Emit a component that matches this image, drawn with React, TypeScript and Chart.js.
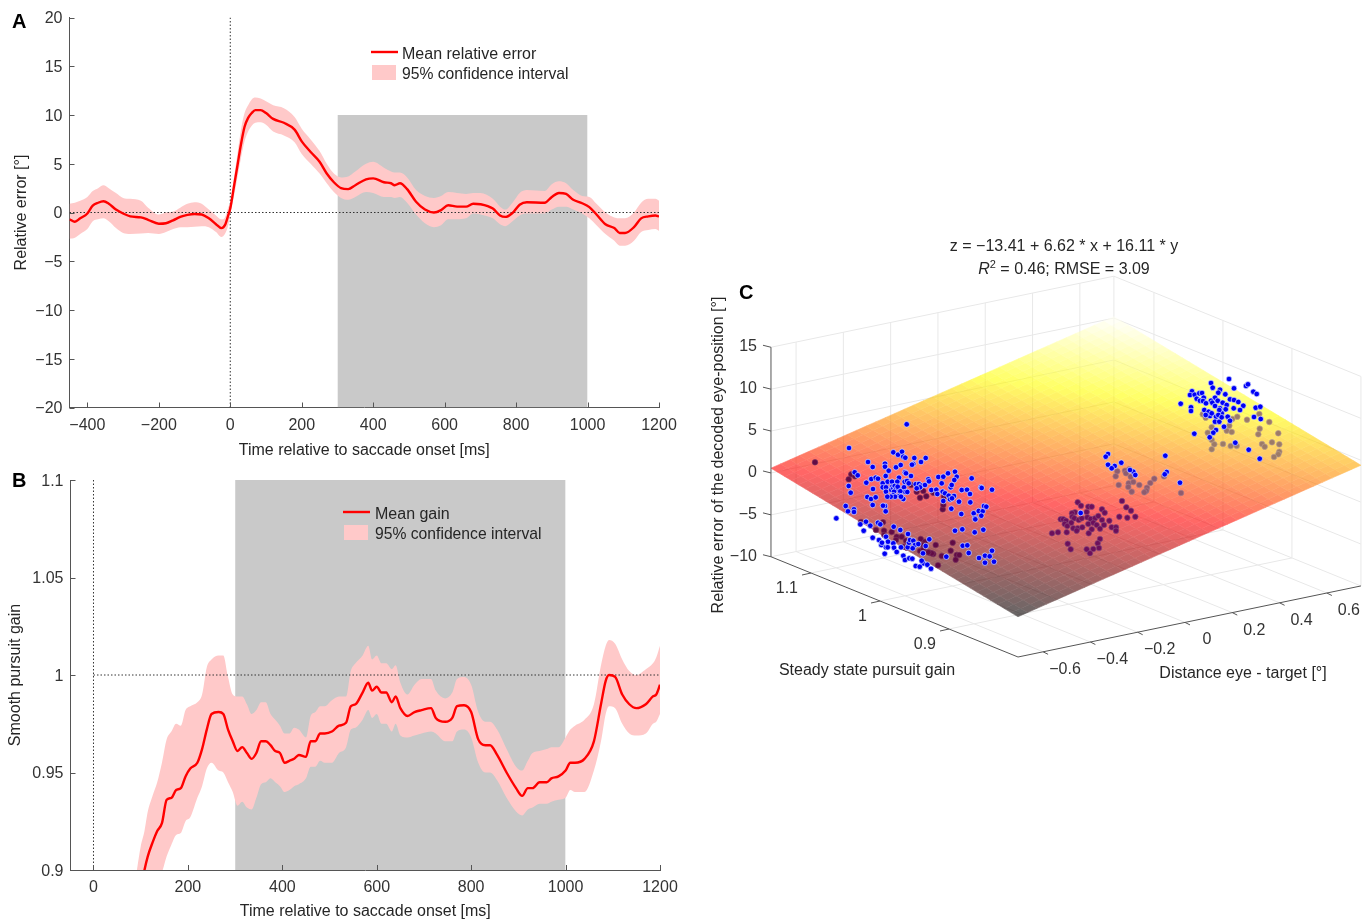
import React, { useEffect, useRef } from "react";
import { Chart, registerables } from "chart.js";

Chart.register(...registerables);
Chart.defaults.font.family = '"Liberation Sans", Arial, sans-serif';
Chart.defaults.color = "#333";

const FONT = '"Liberation Sans", Arial, sans-serif';

// ---------- Panel A ----------
const errorTicksX = [-400, -200, 0, 200, 400, 600, 800, 1000, 1200];
const errorTicksY = [-20, -15, -10, -5, 0, 5, 10, 15, 20];
const errorTime = [-450,-435,-420,-400,-385,-370,-355,-340,-320,-300,-280,-250,-230,-200,-180,-160,-140,-120,-100,-80,-60,-40,-25,-15,-5,0,10,20,30,40,50,60,70,85,100,120,150,180,200,225,250,270,290,310,330,350,380,400,430,450,460,475,495,520,545,570,590,610,635,660,680,700,735,755,770,790,810,830,880,900,920,940,960,985,1005,1025,1050,1075,1090,1105,1130,1150,1170,1190,1200];
const errorMean = [-0.7,-0.95,-0.6,-0.1,0.7,1.0,1.15,0.9,0.3,-0.1,-0.4,-0.5,-0.75,-1.15,-1.1,-0.8,-0.45,-0.25,-0.15,-0.2,-0.6,-1.2,-1.6,-1.3,-0.2,0.4,2.6,4.8,7.0,8.8,9.7,10.2,10.5,10.5,10.2,9.6,9.2,8.5,7.3,6.2,5.2,4.0,3.1,2.5,2.4,2.8,3.4,3.5,3.1,3.0,2.8,3.0,2.4,1.1,0.3,0.0,0.25,0.75,0.6,0.6,0.9,0.85,0.4,-0.3,-0.45,-0.05,0.8,1.05,1.0,1.6,2.0,1.9,1.3,0.95,0.55,-0.2,-1.2,-1.6,-2.1,-2.1,-1.5,-0.6,-0.4,-0.3,-0.4];
const errorUpper = [0.9,1.0,1.2,1.6,2.2,2.5,2.8,2.5,2.0,1.5,1.4,1.2,0.5,-0.2,0.0,0.1,0.5,0.9,1.05,0.9,0.3,-0.3,-0.7,-0.5,0.6,1.0,3.5,6.0,8.5,10.2,11.0,11.6,11.8,11.7,11.4,11.0,10.7,9.8,8.6,7.5,6.3,5.0,4.0,3.6,3.7,4.2,5.0,5.2,4.6,4.2,4.1,4.1,3.6,2.3,1.7,1.5,1.7,2.1,2.0,1.9,2.0,2.0,1.4,0.6,0.3,1.0,2.0,2.3,2.2,2.9,3.2,3.0,2.3,1.7,1.6,0.9,0.0,-0.5,-0.6,-0.6,0.0,1.0,1.4,1.4,1.2];
const errorLower = [-2.7,-2.6,-2.2,-1.7,-0.9,-0.7,-0.6,-0.9,-1.6,-2.1,-2.2,-2.15,-2.1,-2.2,-2.0,-1.7,-1.5,-1.5,-1.45,-1.4,-1.5,-2.0,-2.5,-2.2,-1.2,-0.1,1.6,3.6,5.6,7.3,8.3,8.9,9.2,9.25,9.0,8.3,7.9,7.2,6.0,5.0,4.0,3.0,2.1,1.5,1.3,1.6,2.1,2.0,1.6,1.6,1.5,1.6,1.0,-0.2,-1.1,-1.5,-1.3,-0.7,-0.7,-0.6,-0.1,-0.2,-0.6,-1.2,-1.4,-0.9,-0.3,-0.1,-0.1,0.3,0.6,0.6,0.3,-0.1,-0.6,-1.3,-2.2,-2.9,-3.4,-3.4,-2.9,-2.0,-1.8,-1.7,-1.9];
const errorWindow = [300, 1000];
const errorWindowTop = 10;

// ---------- Panel B ----------
const gainTicksX = [0, 200, 400, 600, 800, 1000, 1200];
const gainTicksY = [0.9, 0.95, 1, 1.05, 1.1];
const gainTime = [92,100,108,115,125,135,145,155,165,175,185,195,205,220,230,240,250,265,275,285,295,305,315,325,335,345,355,365,375,385,395,405,415,425,435,450,460,470,480,490,505,520,535,545,555,570,582,590,600,610,620,632,640,650,665,680,695,715,725,745,760,770,785,800,815,830,840,855,875,895,908,920,930,945,960,970,985,1000,1010,1020,1040,1060,1075,1085,1092,1105,1120,1135,1150,1170,1185,1192,1200];
const gainMean = [0.88,0.89,0.9,0.907,0.914,0.92,0.924,0.936,0.937,0.941,0.942,0.948,0.952,0.955,0.962,0.972,0.98,0.981,0.98,0.972,0.966,0.961,0.963,0.96,0.957,0.96,0.966,0.966,0.964,0.961,0.96,0.955,0.956,0.957,0.959,0.958,0.966,0.966,0.97,0.97,0.971,0.974,0.9755,0.984,0.985,0.991,0.996,0.992,0.994,0.991,0.991,0.986,0.989,0.983,0.979,0.981,0.982,0.983,0.978,0.976,0.978,0.984,0.9845,0.981,0.967,0.964,0.964,0.959,0.95,0.942,0.938,0.942,0.942,0.945,0.945,0.947,0.948,0.951,0.955,0.955,0.957,0.966,0.985,0.997,1.0,0.999,0.99,0.985,0.983,0.985,0.989,0.99,0.995];
const gainUpper = [0.9,0.912,0.92,0.93,0.938,0.945,0.955,0.967,0.971,0.975,0.974,0.982,0.984,0.986,0.99,1.004,1.008,1.01,1.01,0.999,0.99,0.989,0.989,0.985,0.98,0.982,0.986,0.986,0.98,0.977,0.974,0.97,0.97,0.973,0.972,0.968,0.979,0.981,0.984,0.984,0.987,0.989,0.989,1.002,1.006,1.01,1.015,1.008,1.01,1.006,1.006,1.003,1.005,0.996,0.99,0.995,0.998,0.998,0.992,0.988,0.991,0.998,0.999,0.995,0.981,0.976,0.976,0.972,0.962,0.953,0.951,0.956,0.96,0.961,0.962,0.963,0.963,0.968,0.972,0.974,0.977,0.985,1.005,1.015,1.018,1.016,1.008,1.002,1.0,1.003,1.006,1.009,1.015];
const gainLower = [0.87,0.878,0.885,0.89,0.893,0.896,0.899,0.907,0.913,0.918,0.919,0.925,0.927,0.937,0.943,0.952,0.955,0.951,0.95,0.945,0.94,0.933,0.935,0.932,0.931,0.937,0.944,0.945,0.947,0.945,0.943,0.94,0.941,0.943,0.944,0.947,0.953,0.953,0.956,0.955,0.955,0.96,0.963,0.972,0.973,0.977,0.982,0.978,0.98,0.975,0.975,0.971,0.975,0.969,0.968,0.969,0.97,0.971,0.97,0.966,0.966,0.971,0.972,0.968,0.955,0.95,0.95,0.946,0.937,0.93,0.928,0.931,0.932,0.934,0.934,0.935,0.936,0.937,0.941,0.94,0.94,0.951,0.966,0.98,0.984,0.983,0.975,0.97,0.969,0.97,0.975,0.976,0.98];
const gainWindow = [300, 1000];

// ---------- Panel C: 3D axes and fitted plane ----------
const distanceTicks = [-0.6, -0.4, -0.2, 0, 0.2, 0.4, 0.6];
const pursuitTicks = [1.1, 1, 0.9];
const decodedTicks = [-10, -5, 0, 5, 10, 15];
const distanceRange = [-0.706, 0.744];
const pursuitRange = [0.8, 1.158];
const decodedRange = [-10, 15];
const planeCoef = [-13.41, 6.62, 16.11];

// Panel C samples, read in the flat projected view of the 3D plot
const blueViewX = [906.7,849,868,872.7,885,885,888.7,896,900.7,893.3,898,902,903.3,905.3,914.3,925.7,921,913.3,912,899,905,906,911,885.7,854.7,857.7,848.7,850.7,866.3,871.3,875.7,878,873,867.3,871,875.7,872.7,885,883,845.7,848,854,854,885.7,882.7,882.7,886,887.7,892,897.3,892.3,886,891.3,893.3,894.7,896,894,897.7,904.7,907,908.7,904,905.3,907.3,900.3,899.3,893.3,895,890.7,887.3,903.3,901,915.7,919,921.3,920,925,928.3,929,916.7,931.3,936.3,938.3,943.3,948,955,956.7,954.3,950.7,951.7,941.7,942.7,937.3,945,948.7,950,954,952,971.7,961.7,967,970,981,981.7,992,959,970.3,943.3,951.3,961.3,973.7,978.7,982.7,984,986.3,981.3,975,975.3,836.3,866,870.3,878,880.3,860.3,863.7,893.7,900.3,908,872.7,879,886,888,881.3,882,886,887.7,893.3,894,884.7,896.7,903.3,905,901,907.7,909,910,913.3,915,918.3,925.7,929.3,909.3,912.3,923.3,915.7,919.7,927.3,931,921.7,923,912.7,955,962.3,974.7,983.3,962.7,967.3,968.7,946.3,979,985,989.7,992,985,994,1229,1211,1212.7,1220,1218.3,1234,1246,1248,1253.3,1256.7,1192,1190,1194.7,1199.3,1202,1203.7,1196.7,1200,1203,1206,1215,1211,1212.3,1217.7,1225.3,1222.7,1226.7,1230,1234,1238.3,1243.3,1240,1233.7,1180.7,1191,1191,1204.3,1208.7,1215,1220,1225.7,1210,1216,1221.7,1219.3,1227.7,1230,1215,1219.3,1224,1216,1213.3,1209.7,1194.3,1255.7,1260.3,1254,1260.7,1235.3,1248.7,1259.7,1205.7,1211.7,1218.3,1221.7,1108,1105.7,1108,1114.7,1111.7,1121.3,1133.3,1135.3,1130,1165.3,1166.7,1164.7,1180,1080.7];
const blueViewY = [424.3,448,462,467,463.7,466.7,470.7,467.3,465,452.3,454.7,451.7,456.7,457.7,458,458,462,464,464.7,477.7,472.3,473.3,476,476,472.3,475.3,486,492.7,482.7,479,477.7,478.7,489,497,499,497.3,505,506,505.7,506,511.3,509.3,512,511.3,483.3,487.3,487.3,481.7,481.7,481.7,486.7,491.7,490,488.3,486,489.3,491.7,486.7,481.7,481,483.3,487.3,492,492,491.3,496,495.3,496.7,496.7,496.7,499,496.7,484.3,484,485.7,487.3,485,479.3,481.3,488.3,490,489.7,477,476.7,473.3,471.7,476.7,480,487.3,485,483.3,491.7,494,493.3,495.7,499.3,496,498.3,478.3,490,489.7,494,487.3,488,489.7,501.7,502.3,501,508.7,514,513.3,511,511.3,506,506.7,515.7,518.3,519.3,518.3,521.7,525.7,522.7,524.3,524.3,530.7,526.7,530,534,537.7,540,536.7,541.7,545,542.7,547.3,547.3,543.3,547.7,553.7,552,555.7,560,547.3,547.3,542.7,540,540.7,545,544,546,539.3,558.3,558.7,563.3,566,566.7,564.7,568.7,560.7,553.3,548.3,530.7,529.3,532.3,529.7,545.7,545.3,553,556.7,558,555.7,556.3,550.7,562.7,561.7,379,383,387.7,389.7,392.7,388.3,386,384.3,391.7,394,391.3,395,394.7,393.3,393,397.7,398.7,400.7,401,403.3,397.7,400.7,402.7,400.7,394.3,402.7,405,399.3,400,402,405.7,410,408.3,403.7,407.3,411,410,411.7,406,408.3,409.3,416,416.7,413.3,410,416.7,420.7,421.7,421.7,426.7,430,432.7,437.3,433.7,407.7,406.7,417,419,442.7,449.7,458.7,415,413.3,415,417.3,454,456.7,464.7,466,468.3,462.7,471.7,475,470,455.7,472,474.3,482.7,513];
const maroonViewX = [815,851.3,848.7,855,861,876,883,884,896.7,901.7,896,906,920.7,925,935.7,933.3,930,931.7,941.7,950.7,952.7,956.7,959.3,955.7,938,920,923.3,916.7,920,926.3,923.3,942.7,943.3,944,911,933.3,884.3,891.7,903.3,906.7,928.3,923.3];
const maroonViewY = [462.3,474.3,479.3,476.3,522,530,522.3,530.7,536.7,536.7,540,540.7,539,541.7,545,554,552.7,553.3,556,550.7,542.7,555,555,559.7,565.3,551,549.3,491.7,497.7,496.3,491,509.3,505,496.7,485,492.7,535,532,546.7,547.7,552.3,545];
const purpleViewX = [1077.7,1081,1088.3,1091.7,1075,1072,1086.7,1102,1104.7,1060.7,1063.3,1066,1072.3,1074.3,1078.7,1081.7,1087.3,1090.7,1095,1098.3,1102,1109.3,1064.7,1067.3,1071.3,1073.3,1077.7,1082.3,1088.3,1093.3,1096.7,1091.7,1100,1104,1111.7,1116,1116,1052,1058,1066.7,1088.7,1076.7,1100,1097.7,1099,1093.3,1086.7,1090,1070.7,1067.7,1122,1126.3,1131,1119.3,1127.3,1135.3];
const purpleViewY = [502.3,505.7,506.7,506.7,512.3,513.3,512,509.3,512.7,519.3,519.3,520.7,516.7,518.3,520,518.3,517.3,519,518.3,516,520,520.7,524,526,522.7,528.3,528.3,527.3,524,522.7,525,529.3,528.7,525,527.3,527.3,530.7,533.3,532.3,532.3,533.3,530.7,539,543.3,548,549,549.3,553.3,549.3,543.7,501,507.3,510.7,516.7,517.7,516.7];
const mauveViewX = [1117.3,1115.7,1125,1129.3,1126,1130.7,1118.7,1128.7,1133.3,1139.3,1128.3,1131.7,1150.3,1154.3,1164,1147,1146.3,1144.3,1181];
const mauveViewY = [471.3,476.3,470.7,469.3,473.3,476.7,485,483.3,482,485,487,491.7,483,478.7,476.3,487.7,490.7,492.3,493];
const tanViewX = [1202.7,1205.7,1232.3,1237.3,1247,1259.3,1269.3,1259.7,1258.3,1278.3,1229.3,1211.7,1226.7,1231.7,1207.7,1211.7,1214.3,1211.7,1223,1230.7,1236.7,1262,1264.7,1272,1279.3,1279.3,1278.3,1274];
const tanViewY = [414.3,417.7,419,416.7,419.7,414,422,428.7,434.3,433.3,425.7,427.3,430.7,432,432.7,440,444.3,449.3,444,446,446,444,446.7,442.3,444.3,451.7,454.3,457];

const zip = (xs: number[], ys: (number | null)[]) => xs.map((x, i) => ({ x, y: ys[i] }));
const minus = (v: number) => String(v).replace("-", "\u2212");

// orthographic projection of the MATLAB view onto the panel's view units
const project = (d: number, g: number, z: number) => ({
  x: 1018 + 236.5 * (d - distanceRange[0]) - 690 * (g - pursuitRange[0]),
  y: 657 - 49 * (d - distanceRange[0]) - 280 * (g - pursuitRange[0]) - 8.38 * (z - decodedRange[0]),
});

function hot(t: number) {
  const c = (v: number) => Math.round(255 * Math.max(0, Math.min(1, v)));
  return `rgb(${c(t / 0.375)},${c((t - 0.375) / 0.375)},${c((t - 0.75) / 0.25)})`;
}

function text(ctx: any, s: string, x: number, y: number, font: string, align = "left", color = "#262626") {
  ctx.font = font;
  ctx.textAlign = align;
  ctx.textBaseline = "middle";
  ctx.fillStyle = color;
  ctx.fillText(s, x, y + 1.5);
}

function timeChart(canvas: HTMLCanvasElement, o: any) {
  const axisColor = "#555";
  const inwardTicks = {
    id: "inwardTicks",
    afterDatasetsDraw(chart: any) {
      const { ctx, chartArea: a, scales } = chart;
      ctx.save();
      ctx.strokeStyle = axisColor;
      ctx.lineWidth = 1;
      ctx.beginPath();
      o.ticksX.forEach((v: number) => {
        const p = Math.round(scales.x.getPixelForValue(v)) + 0.5;
        ctx.moveTo(p, a.bottom);
        ctx.lineTo(p, a.bottom - 5);
      });
      o.ticksY.forEach((v: number) => {
        const p = Math.round(scales.y.getPixelForValue(v)) + 0.5;
        ctx.moveTo(a.left, p);
        ctx.lineTo(a.left + 5, p);
      });
      ctx.stroke();
      o.ticksY.forEach((v: number) => {
        text(ctx, minus(v), a.left - 7, scales.y.getPixelForValue(v), `16px ${FONT}`, "right", "#333");
      });
      ctx.restore();
    },
  };
  const legendAndLetter = {
    id: "legendAndLetter",
    afterDraw(chart: any) {
      const { ctx } = chart;
      ctx.save();
      text(ctx, o.letter, 12, o.letterY, `bold 20px ${FONT}`, "left", "#000");
      const l = o.legend;
      ctx.strokeStyle = "#ff0000";
      ctx.lineWidth = 2.4;
      ctx.beginPath();
      ctx.moveTo(l.x, l.y);
      ctx.lineTo(l.x + 27, l.y);
      ctx.stroke();
      ctx.fillStyle = "#ffc9c9";
      ctx.fillRect(l.x + 1, l.y + 13, 24, 15);
      text(ctx, l.mean, l.tx, l.y + 1, `16px ${FONT}`);
      text(ctx, "95% confidence interval", l.tx, l.y + 21, `15.7px ${FONT}`);
      ctx.restore();
    },
  };
  const line = (data: any, extra: any) => ({
    type: "line",
    data,
    pointRadius: 0,
    tension: 0,
    borderWidth: 0,
    fill: false,
    ...extra,
  });
  const dotted = { borderColor: "#333", borderWidth: 1, borderDash: [1.5, 2] };
  const smooth = { cubicInterpolationMode: "monotone" };
  return new Chart(canvas, {
    type: "line",
    data: {
      datasets: [
        line(zip(o.time, o.mean), { borderColor: "#ff0000", borderWidth: 2.4, borderJoinStyle: "round", ...smooth }),
        line(o.zeroH, dotted),
        line(o.zeroV, dotted),
        line(zip(o.time, o.upper), { fill: "+1", backgroundColor: "#ffc9c9", ...smooth }),
        line(zip(o.time, o.lower), { ...smooth }),
        line(o.window, { fill: { value: o.yMin }, backgroundColor: "#c9c9c9" }),
      ] as any,
    },
    options: {
      responsive: false,
      animation: false,
      devicePixelRatio: 1,
      parsing: true,
      layout: { autoPadding: false, padding: o.padding },
      plugins: { legend: { display: false }, tooltip: { enabled: false } },
      scales: {
        x: {
          type: "linear",
          min: o.xMin,
          max: 1200,
          grid: { display: false, drawTicks: false },
          border: { display: true, color: axisColor },
          afterBuildTicks: (s: any) => { s.ticks = o.ticksX.map((value: number) => ({ value })); },
          afterFit: (s: any) => { s.height = o.xHeight; s.paddingLeft = 0; s.paddingRight = 0; },
          ticks: { autoSkip: false, maxRotation: 0, padding: 8, color: "#333", font: { size: 16 }, callback: (v: number) => minus(v) },
          title: { display: true, text: "Time relative to saccade onset [ms]", color: "#262626", font: { size: 16 }, padding: 0 },
        },
        y: {
          type: "linear",
          min: o.yMin,
          max: o.yMax,
          grid: { display: false, drawTicks: false },
          border: { display: true, color: axisColor },
          afterBuildTicks: (s: any) => { s.ticks = o.ticksY.map((value: number) => ({ value })); },
          afterFit: (s: any) => { s.width = o.yWidth; s.paddingTop = 0; s.paddingBottom = 0; },
          ticks: { display: false },
          title: { display: true, text: o.yTitle, color: "#262626", font: { size: 16 }, padding: { top: o.yTitlePad, bottom: 0 } },
        },
      },
    } as any,
    plugins: [inwardTicks, legendAndLetter],
  } as any);
}

function surfaceChart(canvas: HTMLCanvasElement) {
  const planeZ = (d: number, g: number) => planeCoef[0] + planeCoef[1] * d + planeCoef[2] * g;
  const gap = { x: NaN, y: NaN };

  const gridData: any[] = [];
  const seg = (a: any, b: any) => gridData.push(a, b, gap);
  const [d0, d1] = distanceRange;
  const [g0, g1] = pursuitRange;
  const [z0, z1] = decodedRange;
  distanceTicks.forEach((d) => {
    seg(project(d, g0, z0), project(d, g1, z0));
    seg(project(d, g1, z0), project(d, g1, z1));
  });
  pursuitTicks.forEach((g) => {
    seg(project(d0, g, z0), project(d1, g, z0));
    seg(project(d1, g, z0), project(d1, g, z1));
  });
  decodedTicks.forEach((z) => {
    seg(project(d0, g1, z), project(d1, g1, z));
    seg(project(d1, g1, z), project(d1, g0, z));
  });
  seg(project(d1, g1, z0), project(d1, g1, z1));
  seg(project(d1, g0, z0), project(d1, g0, z1));

  const axisData: any[] = [];
  const axSeg = (a: any, b: any) => axisData.push(a, b, gap);
  axSeg(project(d0, g1, z0), project(d0, g1, z1));
  axSeg(project(d0, g1, z0), project(d0, g0, z0));
  axSeg(project(d0, g0, z0), project(d1, g0, z0));
  decodedTicks.forEach((z) => {
    const p = project(d0, g1, z);
    axSeg(p, { x: p.x - 8, y: p.y - 2 });
  });
  pursuitTicks.forEach((g) => {
    const p = project(d0, g, z0);
    axSeg(p, { x: p.x - 9, y: p.y + 2 });
  });
  distanceTicks.forEach((d) => {
    const p = project(d, g0, z0);
    axSeg(p, { x: p.x + 5, y: p.y + 2.5 });
  });

  const surface = {
    id: "surface",
    beforeDatasetDraw(chart: any, args: any) {
      if (args.index !== 5) return;
      const { ctx, scales } = chart;
      const off = document.createElement("canvas");
      off.width = chart.width;
      off.height = chart.height;
      const o = off.getContext("2d") as CanvasRenderingContext2D;
      const n = 36;
      const zMin = planeZ(d0, g0);
      const zMax = planeZ(d1, g1);
      const px = (d: number, g: number) => {
        const p = project(d, g, planeZ(d, g));
        return [scales.x.getPixelForValue(p.x), scales.y.getPixelForValue(p.y)];
      };
      for (let i = 0; i < n; i++) {
        for (let j = 0; j < n; j++) {
          const a = d0 + ((d1 - d0) * i) / n;
          const b = d0 + ((d1 - d0) * (i + 1)) / n;
          const c = g0 + ((g1 - g0) * j) / n;
          const e = g0 + ((g1 - g0) * (j + 1)) / n;
          const col = hot((planeZ((a + b) / 2, (c + e) / 2) - zMin) / (zMax - zMin));
          o.fillStyle = col;
          o.strokeStyle = col;
          o.lineWidth = 0.6;
          o.beginPath();
          [[a, c], [b, c], [b, e], [a, e]].forEach(([d, g], k) => {
            const q = px(d, g);
            if (k === 0) o.moveTo(q[0], q[1]);
            else o.lineTo(q[0], q[1]);
          });
          o.closePath();
          o.fill();
          o.stroke();
        }
      }
      ctx.save();
      ctx.globalAlpha = 0.6;
      ctx.drawImage(off, 0, 0);
      ctx.restore();
    },
  };

  const labels = {
    id: "labels",
    afterDraw(chart: any) {
      const { ctx, scales } = chart;
      const X = (v: number) => scales.x.getPixelForValue(v);
      const Y = (v: number) => scales.y.getPixelForValue(v);
      const f = `16px ${FONT}`;
      ctx.save();
      decodedTicks.forEach((z) => {
        const p = project(d0, g1, z);
        text(ctx, minus(z), X(p.x - 14), Y(p.y - 2), f, "right", "#333");
      });
      pursuitTicks.forEach((g) => {
        const p = project(d0, g, z0);
        text(ctx, String(g), X(p.x - 13), Y(p.y + 14), f, "right", "#333");
      });
      distanceTicks.forEach((d) => {
        const p = project(d, g0, z0);
        text(ctx, minus(d), X(p.x + 22), Y(p.y + 16), f, "center", "#333");
      });
      text(ctx, "Steady state pursuit gain", X(867), Y(669), f, "center");
      text(ctx, "Distance eye - target [\u00b0]", X(1243), Y(672), f, "center");
      text(ctx, "C", X(739), Y(292), `bold 20px ${FONT}`, "left", "#000");
      text(ctx, "z = \u221213.41 + 6.62 * x + 16.11 * y", X(1064), Y(245), f, "center");
      // second title line with an italic R and raised 2
      const rest = " = 0.46; RMSE = 3.09";
      ctx.font = f;
      const restW = ctx.measureText(rest).width;
      ctx.font = `italic ${f}`;
      const rW = ctx.measureText("R").width;
      ctx.font = `11px ${FONT}`;
      const twoW = ctx.measureText("2").width;
      let cx = X(1064) - (restW + rW + twoW) / 2;
      text(ctx, "R", cx, Y(268), `italic ${f}`);
      cx += rW;
      text(ctx, "2", cx, Y(263), `11px ${FONT}`);
      cx += twoW;
      text(ctx, rest, cx, Y(268), f);
      ctx.translate(X(717), Y(455));
      ctx.rotate(-Math.PI / 2);
      text(ctx, "Relative error of the decoded eye-position [\u00b0]", 0, 0, f, "center");
      ctx.restore();
    },
  };

  const dots = (data: any, color: string, edge: string, r = 2.8) => ({
    type: "scatter",
    data,
    showLine: false,
    pointRadius: r,
    pointBackgroundColor: color,
    pointBorderColor: edge,
    pointBorderWidth: 0.7,
  });
  return new Chart(canvas, {
    type: "scatter",
    data: {
      datasets: [
        dots(zip(blueViewX, blueViewY), "#0000f5", "#d8e0ff"),
        dots(zip(tanViewX, tanViewY), "#9c7b68", "#b79c8c"),
        dots(zip(mauveViewX, mauveViewY), "#8f5c6e", "#a87a88"),
        dots(zip(purpleViewX, purpleViewY), "#6c0f5c", "#8a4a7a"),
        dots(zip(maroonViewX, maroonViewY), "#620b45", "#7a3460"),
        { type: "scatter", data: axisData, showLine: true, spanGaps: false, pointRadius: 0, borderColor: "#555", borderWidth: 1 },
        { type: "scatter", data: gridData, showLine: true, spanGaps: false, pointRadius: 0, borderColor: "#e8e8e8", borderWidth: 1 },
      ] as any,
    },
    options: {
      responsive: false,
      animation: false,
      devicePixelRatio: 1,
      layout: { autoPadding: false, padding: 0 },
      plugins: { legend: { display: false }, tooltip: { enabled: false } },
      scales: {
        x: { type: "linear", display: false, min: 690, max: 1371 },
        y: { type: "linear", display: false, min: 230, max: 700, reverse: true },
      },
    } as any,
    plugins: [surface, labels],
  } as any);
}

export default function App() {
  const a = useRef<HTMLCanvasElement>(null);
  const b = useRef<HTMLCanvasElement>(null);
  const c = useRef<HTMLCanvasElement>(null);
  useEffect(() => {
    const charts = [
      timeChart(a.current as HTMLCanvasElement, {
        time: errorTime, mean: errorMean, upper: errorUpper, lower: errorLower,
        ticksX: errorTicksX, ticksY: errorTicksY,
        xMin: -450, yMin: -20, yMax: 20,
        zeroH: [{ x: -450, y: 0 }, { x: 1200, y: 0 }],
        zeroV: [{ x: 0, y: -20 }, { x: 0, y: 20 }],
        window: [{ x: errorWindow[0], y: errorWindowTop }, { x: errorWindow[1], y: errorWindowTop }],
        padding: { left: 0, right: 21, top: 17.5, bottom: 0 },
        xHeight: 52.5, yWidth: 69.5, yTitlePad: 12,
        yTitle: "Relative error [\u00b0]",
        letter: "A", letterY: 21,
        legend: { x: 371, y: 52, tx: 402, mean: "Mean relative error" },
      }),
      timeChart(b.current as HTMLCanvasElement, {
        time: gainTime, mean: gainMean, upper: gainUpper, lower: gainLower,
        ticksX: gainTicksX, ticksY: gainTicksY,
        xMin: -48.7, yMin: 0.9, yMax: 1.1,
        zeroH: [{ x: 0, y: 1 }, { x: 1200, y: 1 }],
        zeroV: [{ x: 0, y: 0.9 }, { x: 0, y: 1.1 }],
        window: [{ x: gainWindow[0], y: 1.1 }, { x: gainWindow[1], y: 1.1 }],
        padding: { left: 0, right: 20, top: 20, bottom: 0 },
        xHeight: 51, yWidth: 70.5, yTitlePad: 6,
        yTitle: "Smooth pursuit gain",
        letter: "B", letterY: 20,
        legend: { x: 343, y: 52, tx: 375, mean: "Mean gain" },
      }),
      surfaceChart(c.current as HTMLCanvasElement),
    ];
    return () => charts.forEach((ch) => ch.destroy());
  }, []);
  const place = (left: number, top: number): React.CSSProperties => ({ position: "absolute", left, top, display: "block" });
  return (
    <div style={{ position: "absolute", left: 0, top: 0, width: 1371, height: 921, overflow: "hidden", background: "#fff" }}>
      <canvas ref={a} width={680} height={460} style={place(0, 0)} />
      <canvas ref={b} width={680} height={461} style={place(0, 460)} />
      <canvas ref={c} width={681} height={470} style={place(690, 230)} />
    </div>
  );
}
